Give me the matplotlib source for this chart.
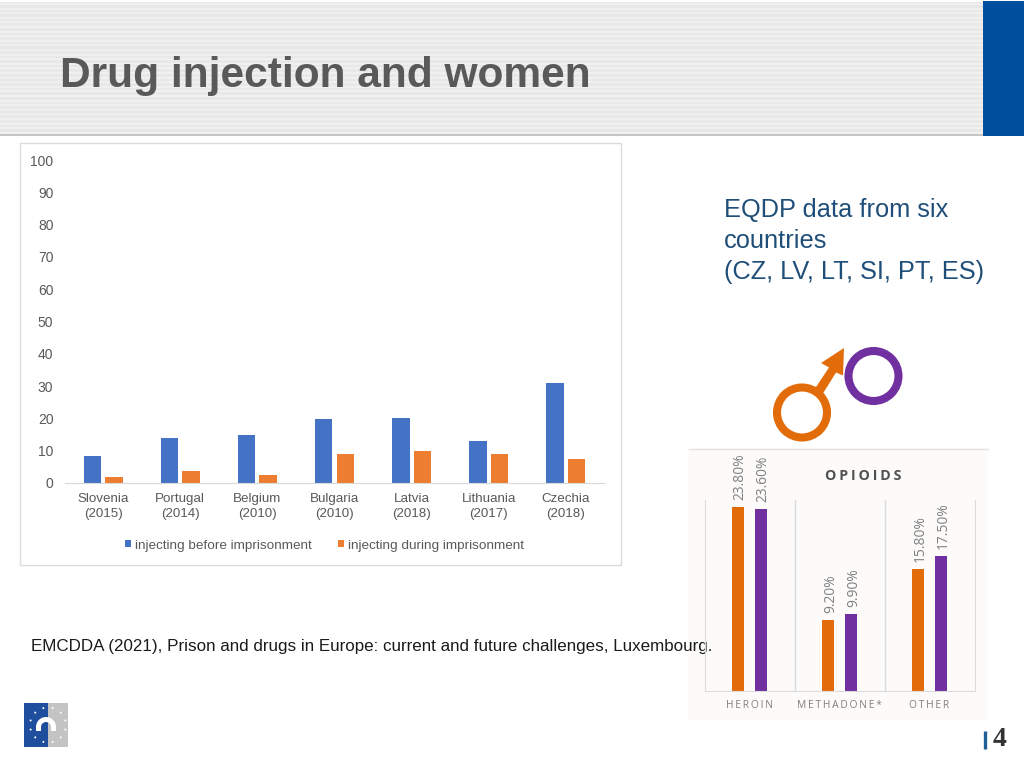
import matplotlib
matplotlib.use("Agg")
import matplotlib.pyplot as plt
from matplotlib.patches import Circle, Polygon, Rectangle, Wedge
import numpy as np

W, H = 1024, 768

# left chart
countries = ["Slovenia\n(2015)", "Portugal\n(2014)", "Belgium\n(2010)", "Bulgaria\n(2010)",
             "Latvia\n(2018)", "Lithuania\n(2017)", "Czechia\n(2018)"]
before_prison = [8.3, 14.0, 15.0, 19.8, 20.0, 13.0, 31.0]
during_prison = [2.0, 3.7, 2.4, 9.0, 10.0, 9.1, 7.3]
left_ticks = list(range(0, 101, 10))

# right chart
opioids = ["HEROIN", "METHADONE*", "OTHER"]
opioid_orange = [23.8, 9.2, 15.8]
opioid_purple = [23.6, 9.9, 17.5]

BLUE = "#4472c4"
ORANGE = "#ed7d31"
DARK_ORANGE = "#e36c0a"
PURPLE = "#7030a0"
GREY = "#595959"


def ax_px(fig, left, top, right, bottom, **kw):
    # axes placed with image pixel coords (y from the top)
    return fig.add_axes([left / W, 1 - bottom / H, (right - left) / W, (bottom - top) / H], **kw)


def spaced(word):
    # letter spacing with thin spaces
    return "\u2009".join(word)


fig = plt.figure(figsize=(W / 100, H / 100), dpi=100, facecolor="white")

# slide furniture, in pixels
bg = fig.add_axes([0, 0, 1, 1])
bg.set_xlim(0, W)
bg.set_ylim(H, 0)
bg.axis("off")

bg.add_patch(Rectangle((0, 2), 983, 133, fc="#e8e8e8", ec="none"))
for y in np.arange(4, 134, 4.6):
    bg.plot([0, 983], [y, y], color="#f1f1f1", lw=1.4, solid_capstyle="butt")
bg.add_patch(Rectangle((0, 133), 983, 3, fc="#c6c6c6", ec="none"))
bg.add_patch(Rectangle((983, 1), 41, 135, fc="#004f9f", ec="none"))
bg.text(60, 76, "Drug injection and women", family="Liberation Sans", weight="bold",
        fontsize=30.6, color=GREY, va="center", ha="left")

# frame of left chart
bg.add_patch(Rectangle((20, 143), 600.5, 422, fc="white", ec="#dcdcdc", lw=1))

bg.text(724, 241, "EQDP data from six\ncountries\n(CZ, LV, LT, SI, PT, ES)",
        family="Liberation Sans", fontsize=18.3, color="#1f4e79", va="center", ha="left",
        linespacing=1.37)

# panel behind right chart
bg.add_patch(Rectangle((688, 448), 300, 272, fc="#fcfbfa", ec="none"))
bg.plot([689, 988], [448.5, 448.5], color="#e4e4e4", lw=1)

bg.text(31, 646, "EMCDDA (2021), Prison and drugs in Europe: current and future challenges, Luxembourg.",
        family="Liberation Sans", fontsize=12.25, color="#1a1a1a", va="center", ha="left")

# male / female symbol
bg.add_patch(Polygon([[814, 390], [822, 395], [836, 372.5], [843, 375.5], [844, 348],
                      [821, 363], [829, 367.5]], fc=DARK_ORANGE, ec="none"))
bg.add_patch(Circle((802, 412.5), 25, fc="none", ec=DARK_ORANGE, lw=5.8))
bg.add_patch(Circle((873.5, 376), 25, fc="none", ec=PURPLE, lw=5.8))

# logo
bg.add_patch(Rectangle((24, 703), 24, 44, fc="#1f4e9e", ec="none"))
bg.add_patch(Rectangle((48, 703), 20, 44, fc="#c4c4c4", ec="none"))
bg.add_patch(Wedge((46, 727), 10, 180, 360, width=5, fc="white", ec="none"))
bg.add_patch(Rectangle((36, 727), 5, 4, fc="white", ec="none"))
bg.add_patch(Rectangle((51, 727), 5, 4, fc="white", ec="none"))
for a in np.arange(15, 360, 30):
    bg.add_patch(Circle((48 + 18 * np.cos(np.radians(a)), 725 + 17.5 * np.sin(np.radians(a))),
                        1.0, fc="white", ec="none"))

# page number
bg.plot([985, 985], [731, 749], color="#1f5f99", lw=2.4, solid_capstyle="butt")
bg.text(999.5, 740, "4", family="Liberation Serif", weight="bold", fontsize=20, color="#333333",
        va="center", ha="center")

# left bar chart
ax = ax_px(fig, 64.5, 160, 604.5, 483, facecolor="none")
x = np.arange(len(countries))
b1 = ax.bar(x - 0.14, before_prison, 0.225, color=BLUE, label="injecting before imprisonment")
b2 = ax.bar(x + 0.14, during_prison, 0.225, color=ORANGE, label="injecting during imprisonment")
ax.set_xlim(-0.5, len(countries) - 0.5)
ax.set_ylim(0, 100)
ax.set_yticks(left_ticks)
ax.set_xticks(x)
ax.set_xticklabels(countries, family="Liberation Sans", fontsize=9.6, color=GREY, linespacing=1.38)
ax.tick_params(axis="y", labelsize=10, labelcolor=GREY, length=0, pad=8)
ax.tick_params(axis="x", length=0, pad=7)
for lab in ax.get_yticklabels():
    lab.set_family("Liberation Sans")
    lab.set_verticalalignment("center_baseline")
for s in ["top", "left", "right"]:
    ax.spines[s].set_visible(False)
ax.spines["bottom"].set_color("#d9d9d9")
ax.legend(loc="center", bbox_to_anchor=(324.5 / W, 1 - 545.5 / H), bbox_transform=fig.transFigure,
          ncol=2, frameon=False, handlelength=0.45, handleheight=0.45, handletextpad=0.25,
          columnspacing=2.0, prop={"family": "Liberation Sans", "size": 9.7}, labelcolor=GREY)

# right bar chart
ax2 = ax_px(fig, 704.5, 499.5, 974.5, 690.5, facecolor="none")
x2 = np.arange(len(opioids))
r1 = ax2.bar(x2 - 0.13, opioid_orange, 0.133, color=DARK_ORANGE)
r2 = ax2.bar(x2 + 0.125, opioid_purple, 0.133, color=PURPLE)
ax2.set_xlim(-0.5, len(opioids) - 0.5)
ax2.set_ylim(0, 24.8)
ax2.set_yticks([])
ax2.set_xticks(x2)
ax2.set_xticklabels([spaced(o) for o in opioids], family="Open Sans", fontsize=7.4, color="#7f7f7f")
ax2.tick_params(axis="x", length=0, pad=6.5)
for sep in x2[:-1] + 0.5:
    ax2.axvline(sep, color="#dcdcdc", lw=1)
ax2.spines["top"].set_visible(False)
for s in ["left", "right", "bottom"]:
    ax2.spines[s].set_color("#dcdcdc")
for bars in [r1, r2]:
    labels = ax2.bar_label(bars, fmt="%.2f%%", rotation=90, padding=5, family="Open Sans", fontsize=9.9,
                           color="#7f7f7f", clip_on=False)
    for lab in labels:
        # labels sit a little right of the bar centre in the reference
        lab.xyann = (1.8, 5)
bg.text(863.5, 475.5, spaced("OPIOIDS"), family="Open Sans", weight="bold", fontsize=10.2,
        color="#505050", va="center", ha="center")

fig.savefig("out.png", dpi=100)
